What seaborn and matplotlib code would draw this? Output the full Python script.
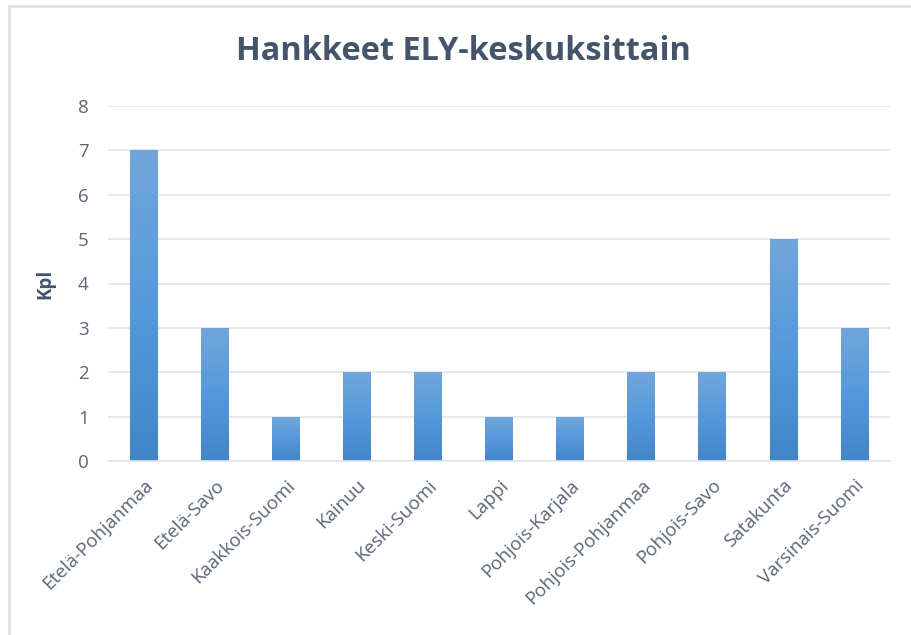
import matplotlib
matplotlib.use("Agg")
import matplotlib.pyplot as plt
import seaborn as sns
import numpy as np
import pandas as pd
from matplotlib.colors import LinearSegmentedColormap
from matplotlib.lines import Line2D

categories = ["Etelä-Pohjanmaa", "Etelä-Savo", "Kaakkois-Suomi", "Kainuu",
              "Keski-Suomi", "Lappi", "Pohjois-Karjala", "Pohjois-Pohjanmaa",
              "Pohjois-Savo", "Satakunta", "Varsinais-Suomi"]
values = [7, 3, 1, 2, 2, 1, 1, 2, 2, 5, 3]
yticks = [0, 1, 2, 3, 4, 5, 6, 7, 8]
title = "Hankkeet ELY-keskuksittain"
ylabel = "Kpl"

df = pd.DataFrame({"ely": categories, "kpl": values})

sns.set_theme(style="white")
plt.rcParams["font.family"] = ["Open Sans", "DejaVu Sans"]

text_col = "#44546a"
tick_col = "#5b6678"
grid_col = "#e1e4ea"

fig = plt.figure(figsize=(9.11, 6.35), dpi=100)
ax = fig.add_axes([108 / 911, 1 - 461 / 635, 782 / 911, (461 - 106) / 635])

sns.barplot(data=df, x="ely", y="kpl", ax=ax, width=0.39, color="#5b9bd5",
            edgecolor="none", saturation=1)

# gradient fill clipped to each bar
cmap = LinearSegmentedColormap.from_list("g", ["#4386c8", "#5599dc", "#72a6da"])
grad = np.linspace(0, 1, 256).reshape(-1, 1)
for p in ax.patches:
    x0, y0 = p.get_x(), p.get_y()
    w, h = p.get_width(), p.get_height()
    im = ax.imshow(grad, cmap=cmap, aspect="auto", origin="lower",
                   extent=[x0, x0 + w, y0, y0 + h], zorder=p.get_zorder() + 0.1)
    im.set_clip_path(p)

ax.set_xlim(-0.5, len(categories) - 0.5)
ax.set_ylim(0, 8)
ax.set_yticks(yticks)
ax.set_yticklabels([str(t) for t in yticks])
ax.yaxis.grid(True, color=grid_col, linewidth=1.2)
ax.set_axisbelow(True)
for s in ["top", "right", "left"]:
    ax.spines[s].set_visible(False)
ax.spines["bottom"].set_color(grid_col)
ax.spines["bottom"].set_linewidth(1.2)

ax.tick_params(axis="y", length=0, pad=14, labelsize=13.5, labelcolor=tick_col)
ax.tick_params(axis="x", length=0, pad=11, labelsize=13.5, labelcolor=tick_col)
plt.setp(ax.get_xticklabels(), rotation=45, ha="right", rotation_mode="anchor")

ax.set_xlabel("")
ax.set_ylabel(ylabel, fontsize=13.5, fontweight="bold", color=text_col, labelpad=16)

fig.text(463 / 911, 1 - 51 / 635, title, ha="center", va="center",
         fontsize=23.4, fontweight="bold", color=text_col)

# chart frame (top and left edges visible)
fig.add_artist(Line2D([9 / 911, 9 / 911], [0, 1 - 6 / 635], transform=fig.transFigure,
                      color="#dde2ec", linewidth=2))
fig.add_artist(Line2D([9 / 911, 1], [1 - 6 / 635, 1 - 6 / 635], transform=fig.transFigure,
                      color="#dde2ec", linewidth=2))

fig.savefig("out.png", dpi=100, facecolor="white")
